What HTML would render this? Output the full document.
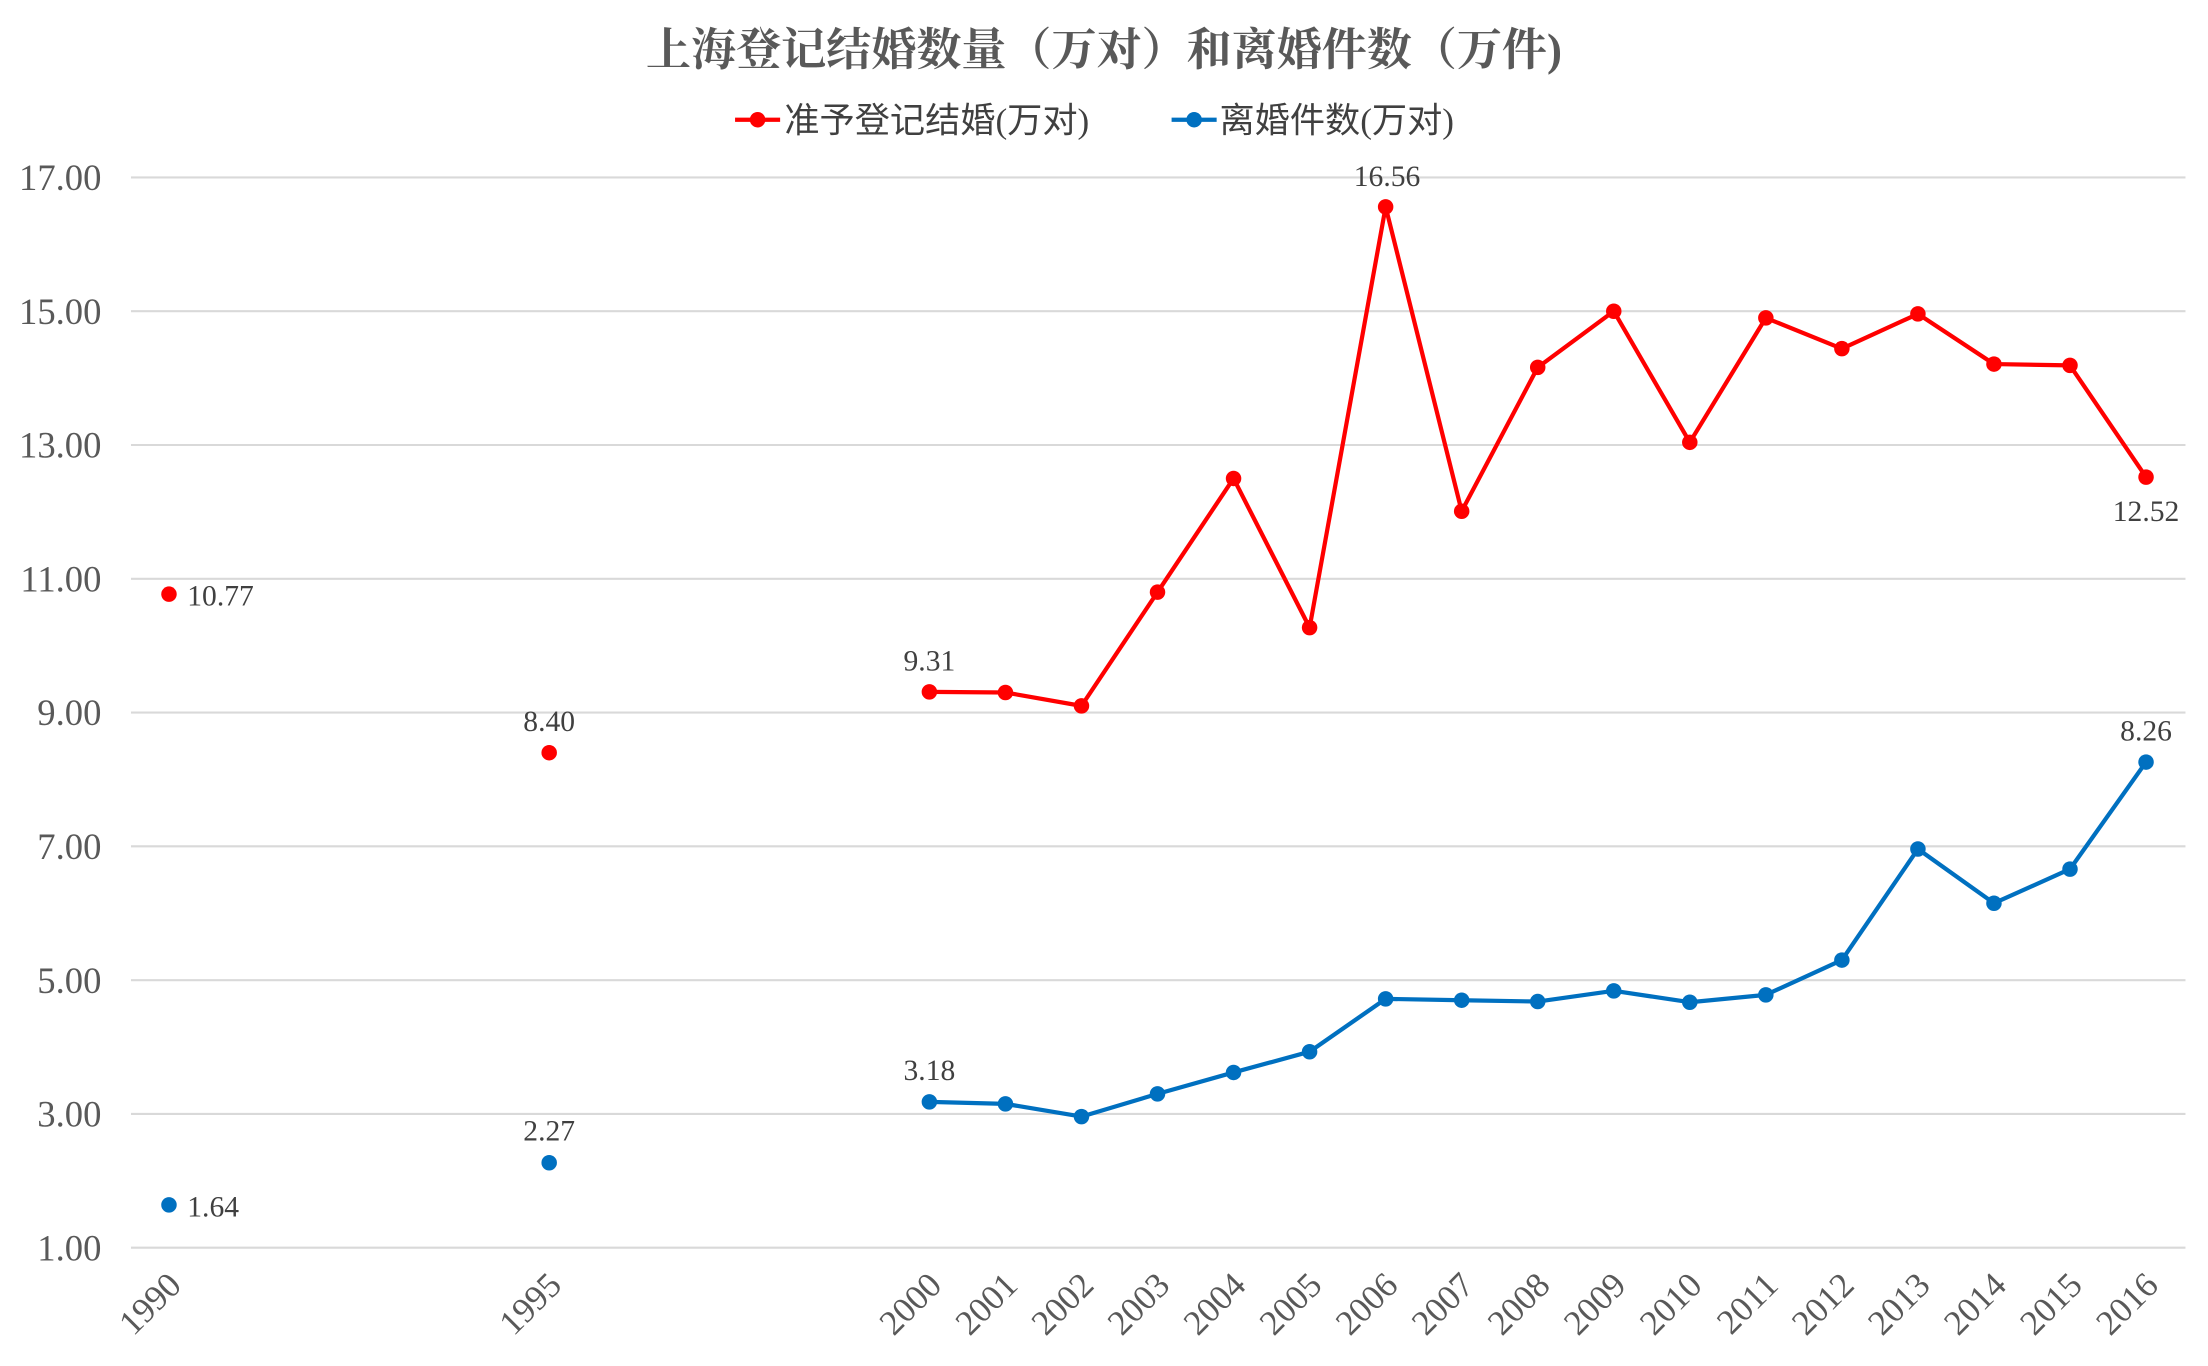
<!DOCTYPE html>
<html><head><meta charset="utf-8"><style>
html,body{margin:0;padding:0;background:#fff;}
svg{display:block;}
</style></head><body>
<svg id="c" width="2208" height="1366" viewBox="0 0 1568 970" preserveAspectRatio="none" xmlns="http://www.w3.org/2000/svg">
<rect width="1568" height="970" fill="#fff"/>
<text x="784" y="46" text-anchor="middle" font-family="Liberation Serif, Noto Serif CJK SC, serif" font-size="32" font-weight="bold" fill="#595959">上海登记结婚数量（万对）和离婚件数（万件)</text>
<line x1="522" y1="85" x2="554" y2="85" stroke="#ff0000" stroke-width="3"/><circle cx="538" cy="85" r="5.5" fill="#ff0000"/>
<text x="557" y="94" font-family="Liberation Serif, Noto Sans CJK SC, sans-serif" font-size="25" fill="#404040">准予登记结婚(万对)</text>
<line x1="832" y1="85" x2="864" y2="85" stroke="#0070c0" stroke-width="3"/><circle cx="848" cy="85" r="5.5" fill="#0070c0"/>
<text x="866" y="94" font-family="Liberation Serif, Noto Sans CJK SC, sans-serif" font-size="25" fill="#404040">离婚件数(万对)</text>
<g id="g"></g>
</svg>
<script>
var g=document.getElementById('g'),NS='http://www.w3.org/2000/svg';
function el(t,a,txt){var e=document.createElementNS(NS,t);for(var k in a)e.setAttribute(k,a[k]);if(txt!=null)e.textContent=txt;g.appendChild(e);return e;}
function Y(v){return 886-(v-1)*47.5;}
function X(yr){return yr<2000?(yr==1990?120:390):660+(yr-2000)*54;}
for(var v=1;v<=17;v+=2){el('line',{x1:93,x2:1552,y1:Y(v),y2:Y(v),stroke:'#d9d9d9','stroke-width':1.5});
el('text',{x:72,y:Y(v)+9,'text-anchor':'end','font-family':'Liberation Serif, serif','font-size':26,fill:'#595959'},v.toFixed(2));}
var yrs=[1990,1995];for(var i=2000;i<=2016;i++)yrs.push(i);
yrs.forEach(function(yr){var x=X(yr);el('text',{x:x+10,y:914,'text-anchor':'end','font-family':'Liberation Serif, serif','font-size':25,fill:'#595959',transform:'rotate(-45 '+(x+10)+' 914)'},yr);});
var red=[10.77,8.40,9.31,9.30,9.10,10.80,12.50,10.27,16.56,12.01,14.16,15.00,13.04,14.90,14.44,14.96,14.21,14.19,12.52];
var blue=[1.64,2.27,3.18,3.15,2.96,3.30,3.62,3.93,4.72,4.70,4.68,4.84,4.67,4.78,5.30,6.96,6.15,6.66,8.26];
function ser(d,c){var p='';for(var i=2;i<d.length;i++)p+=(i==2?'M':'L')+X(yrs[i])+' '+Y(d[i]);
el('path',{d:p,fill:'none',stroke:c,'stroke-width':3,'stroke-linejoin':'round'});
d.forEach(function(v,i){el('circle',{cx:X(yrs[i]),cy:Y(v),r:5.5,fill:c});});}
ser(red,'#ff0000');ser(blue,'#0070c0');
var f={'font-family':'Liberation Serif, serif','font-size':21,fill:'#404040'};
function lab(x,y,t,a){var o=Object.assign({x:x,y:y,'text-anchor':a||'middle'},f);el('text',o,t);}
lab(133,430,'10.77','start');lab(390,519,'8.40');lab(660,476,'9.31');lab(985,132,'16.56');lab(1524,370,'12.52');
lab(133,864,'1.64','start');lab(390,810,'2.27');lab(660,767,'3.18');lab(1524,526,'8.26');
</script>
</body></html>
